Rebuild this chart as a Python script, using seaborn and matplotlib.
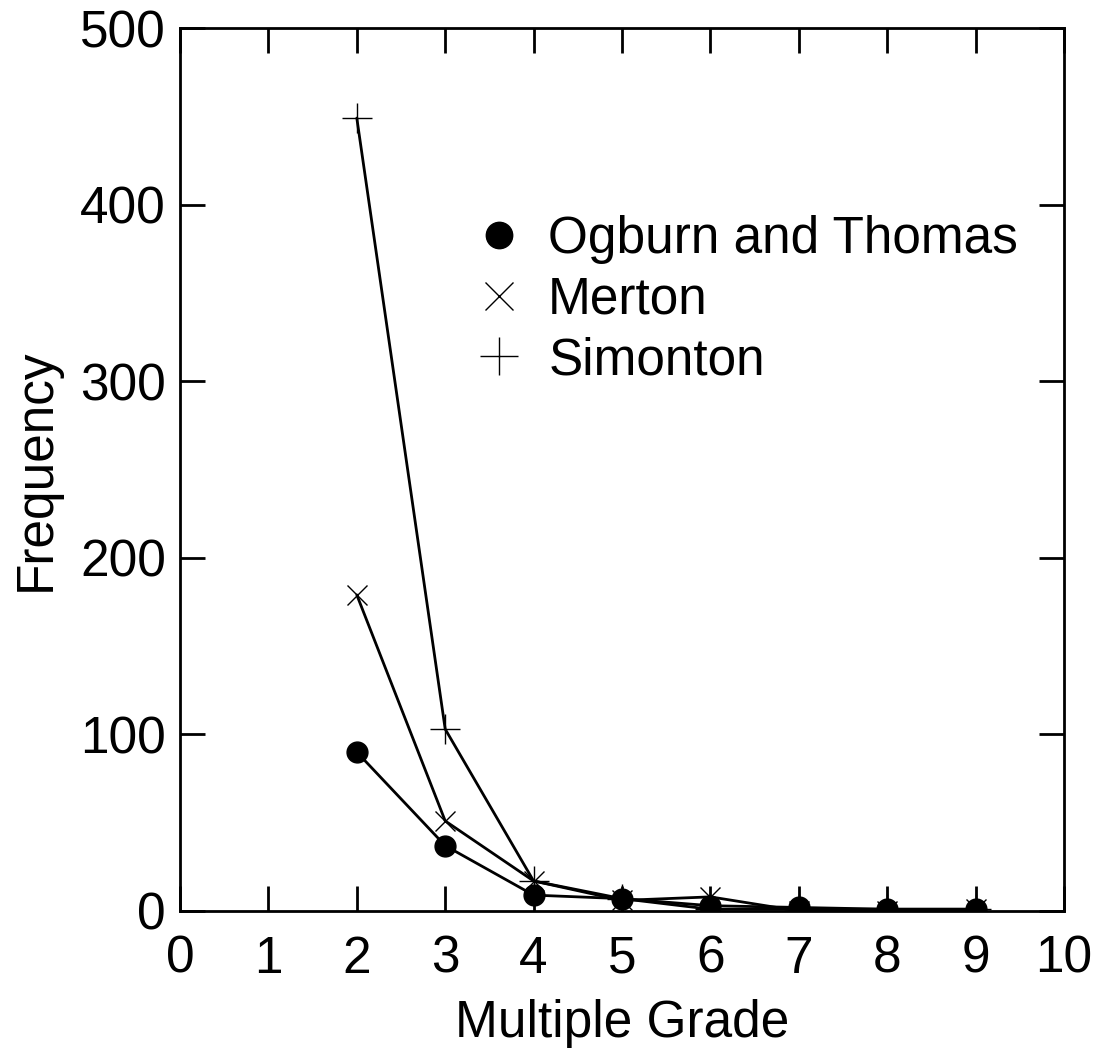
import numpy as np
import pandas as pd
import matplotlib
matplotlib.use("Agg")
import matplotlib.pyplot as plt
from matplotlib.lines import Line2D
import seaborn as sns

grades = [2, 3, 4, 5, 6, 7, 8, 9]
ogburn = [90, 37, 9, 7, 3, 2, 1, 1]
merton = [179, 51, 17, 6, 8, 0, 0, 1]
simonton = [449, 103, 17, 7, 1, 1, 1, 1]
series_names = ["Ogburn and Thomas", "Merton", "Simonton"]

x_ticks = list(range(0, 11))
y_ticks = [0, 100, 200, 300, 400, 500]

sns.set_theme(style="ticks")
plt.rcParams['font.family'] = ['Liberation Sans', 'DejaVu Sans']
plt.rcParams['text.color'] = 'black'
plt.rcParams['axes.labelcolor'] = 'black'
plt.rcParams['xtick.color'] = 'black'
plt.rcParams['ytick.color'] = 'black'

fig = plt.figure(figsize=(10.97, 10.52), dpi=100)
ax = fig.add_axes([180/1097, 1 - 911/1052, (1064-180)/1097, (911-28)/1052])

styles = {
    "Ogburn and Thomas": dict(marker="o", markersize=15, mfc="black", mew=1.0),
    "Merton": dict(marker="x", markersize=15, mfc="black", mew=1.0),
    "Simonton": dict(marker="+", markersize=22, mfc="black", mew=1.0),
}
data = {"Ogburn and Thomas": ogburn, "Merton": merton, "Simonton": simonton}

handles = []
for name in series_names:
    df = pd.DataFrame({"grade": grades, "freq": data[name]})
    st = styles[name]
    sns.lineplot(data=df, x="grade", y="freq", ax=ax, color="black", lw=2,
                 marker=st["marker"], markersize=st["markersize"],
                 markerfacecolor=st["mfc"], markeredgecolor="black",
                 markeredgewidth=st["mew"], legend=False)
    handles.append(Line2D([], [], linestyle="none", marker=st["marker"],
                          markersize=st["markersize"] + (5 if name != "Ogburn and Thomas" else 4),
                          markerfacecolor=st["mfc"], markeredgecolor="black",
                          markeredgewidth=st["mew"], label=name))

ax.set_xlim(0, 10)
ax.set_ylim(0, 500)
ax.set_xticks(x_ticks)
ax.set_yticks(y_ticks)
ax.tick_params(direction="in", length=18, width=2, labelsize=37, top=True, right=True,
               pad=10, color="black", labelcolor="black")
ax.tick_params(axis="x", pad=17)
for sp in ax.spines.values():
    sp.set_linewidth(2)
    sp.set_color("black")
ax.set_xlabel("Multiple Grade", fontsize=37, labelpad=11, color="black")
ax.set_ylabel("Frequency", fontsize=37, labelpad=14, color="black")

leg = ax.legend(handles=handles, loc="upper left", bbox_to_anchor=(0.309, 0.811),
                frameon=False, fontsize=37, handlelength=1.0, handletextpad=0.45,
                labelspacing=0.22, borderaxespad=0)
for t in leg.get_texts():
    t.set_color("black")

fig.savefig("out.png", dpi=100, facecolor="white")
